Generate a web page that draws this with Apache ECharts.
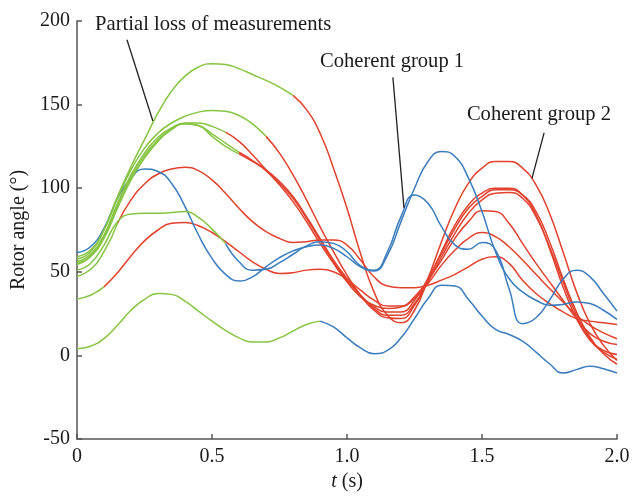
<!DOCTYPE html>
<html>
<head>
<meta charset="utf-8">
<script src="https://cdn.jsdelivr.net/npm/echarts@6/dist/echarts.min.js"></script>
<style>
html, body { margin: 0; padding: 0; background: #ffffff; }
#chart { width: 633px; height: 497px; }
</style>
</head>
<body>
<div id="chart"></div>
<script>
// Sample instants (s)
const timeS = [0, 0.05, 0.1, 0.15, 0.2, 0.25, 0.3, 0.35, 0.4, 0.45,
  0.5, 0.55, 0.6, 0.65, 0.7, 0.75, 0.8, 0.85, 0.9, 0.95,
  1.0, 1.05, 1.1, 1.15, 1.2, 1.25, 1.3, 1.35, 1.4, 1.45,
  1.5, 1.55, 1.6, 1.65, 1.7, 1.75, 1.8, 1.85, 1.9, 1.95, 2.0];

// Rotor angle of each generator (deg), one value per sample instant
const gen1 = [57.5, 62, 75, 95, 113, 129, 145, 158, 167, 172.5,
  174.5, 174, 171.5, 168, 164.5, 160.5, 155.5, 147, 133, 112,
  88, 61, 38, 24, 19.5, 27, 46, 68, 88, 103,
  112, 116, 116, 112, 102, 85, 62, 38, 19, 6, -3];
const gen2 = [59, 63, 75, 94, 111, 124, 133, 139, 143, 145.5,
  146.5, 146, 143.5, 138.5, 131, 121, 108, 93, 77, 62,
  48, 36, 27, 22.5, 22, 30, 45, 62, 78, 90,
  97, 100, 100, 96, 84, 64, 41, 22, 9, 2, -2.4];
const gen3 = [56, 60.5, 72, 91, 108, 121, 130.5, 136, 139, 139,
  137, 133.5, 128, 120, 111, 103, 94, 82, 69, 56,
  45, 36, 29, 26, 26, 33, 46, 61, 76, 88,
  95, 99, 99, 96, 86, 68, 46, 26, 11, 1, -5.3];
const gen4 = [54.4, 59, 70, 88, 105, 118, 128, 135, 138.5, 137.5,
  131, 125, 120.5, 116, 111, 104, 95, 83, 70, 57,
  46, 36, 28, 24, 24, 31, 44, 59, 73, 85,
  93, 97, 97.5, 94, 83, 65, 44, 24, 10, 3, 0.6];
const gen5 = [55, 59.5, 71, 89.5, 106.5, 119.5, 129, 135.5, 138.5, 137.5,
  132.5, 127, 121.5, 116.5, 110.5, 102, 92, 80, 67, 55,
  44, 35, 30, 28, 29, 35, 45, 57, 70, 80,
  86.5, 86, 79, 67, 55, 44, 33, 22, 13, 8.5, 6.5];
const gen6 = [47.3, 51.5, 62, 79, 93, 102.5, 108.5, 111.5, 112.5, 110.5,
  105, 97, 88, 80, 74, 70, 67.5, 68, 69, 69,
  66, 57, 47, 41.5, 40.5, 40.5, 42, 45, 48.5, 53,
  57.5, 59, 55, 45, 37, 31, 26, 22, 20.5, 19.5, 18.5];
const gen7 = [33.7, 36, 41, 49.5, 59.5, 68.5, 75, 79, 79.5, 77.5,
  73.5, 68, 62, 56, 51.5, 49, 49.5, 51, 51.5, 50,
  45.5, 39, 33, 29.5, 29.5, 34, 43, 54, 63, 70,
  73.5, 71, 65, 57, 48.5, 40, 32, 24, 18, 13.5, 10];
const gen8 = [61.5, 65, 76, 94, 106, 111.5, 110, 103, 89, 72,
  58, 48.5, 44.5, 47, 53, 58.5, 62.5, 65, 66, 64,
  59, 53, 50.5, 60, 80, 100, 116, 122, 119, 106,
  86, 62, 46, 38, 33, 30, 30.5, 32, 31, 27, 21.5];
const gen9 = [51, 55, 66, 80, 84.5, 85, 85, 85.5, 86, 82.5,
  75.5, 67, 56, 51, 51.5, 55.5, 60.5, 65.5, 68, 67,
  62, 53.5, 51, 62, 83, 96, 91, 77, 66, 63.5,
  67.5, 63, 40, 19, 22.5, 33, 45.5, 51, 47, 37, 26.5];
const gen10 = [4, 5.5, 10, 18, 27, 33.5, 37, 36.5, 32.5, 26.5,
  20.5, 15, 10.5, 8, 8, 10.5, 14.5, 18.5, 20.5, 17,
  10.5, 4.5, 1, 3, 10.5, 22, 34, 42, 41.5, 33.5,
  23.5, 15.5, 12.5, 8.5, 2, -5, -10.5, -8.5, -6.5, -8, -10.5];

// Trace state of each generator: [state, first sample index]
const phase1 = [['loss', 0], ['group2', 16]];
const phase2 = [['loss', 0], ['group2', 14]];
const phase3 = [['loss', 0], ['group2', 11]];
const phase4 = [['loss', 0], ['group2', 12]];
const phase5 = [['loss', 0], ['group2', 12]];
const phase6 = [['loss', 0], ['group2', 3]];
const phase7 = [['loss', 0], ['group2', 2]];
const phase8 = [['group1', 0]];
const phase9 = [['loss', 0], ['group1', 11]];
const phase10 = [['loss', 0], ['group1', 18]];

// Axis ticks
const xTicks = [0, 0.5, 1.0, 1.5, 2.0];
const yTicks = [-50, 0, 50, 100, 150, 200];

// Callout texts
const noteTexts = ['Partial loss of measurements', 'Coherent group 1', 'Coherent group 2'];

const stateColor = { loss: '#86c442', group1: '#3a7cbd', group2: '#e2412d' };
const serif = '"Liberation Serif", "Times New Roman", serif';

const curves = [gen1, gen2, gen3, gen4, gen5, gen6, gen7, gen8, gen9, gen10];
const phases = [phase1, phase2, phase3, phase4, phase5, phase6, phase7, phase8, phase9, phase10];

// One line series per coloured stretch; consecutive stretches share their joint sample
const series = [];
curves.forEach((vals, c) => {
  const ph = phases[c];
  ph.forEach((p, k) => {
    const start = p[1];
    const end = k + 1 < ph.length ? ph[k + 1][1] : vals.length - 1;
    const data = [];
    for (let i = start; i <= end; i++) data.push([timeS[i], vals[i]]);
    series.push({
      type: 'line',
      data: data,
      smooth: 0.5,
      showSymbol: false,
      silent: true,
      animation: false,
      lineStyle: { width: 1.5, color: stateColor[p[0]] },
      z: p[0] === 'loss' ? 3 : 2
    });
  });
});

const chart = echarts.init(document.getElementById('chart'), null, { renderer: 'canvas' });

const axisLine = { show: true, onZero: false, lineStyle: { color: '#555555', width: 1.5 } };
const axisTick = { show: true, inside: true, length: 5, lineStyle: { color: '#555555', width: 1.5 } };

chart.setOption({
  backgroundColor: '#ffffff',
  animation: false,
  grid: { left: 77, right: 16, top: 21, bottom: 54, containLabel: false },
  xAxis: {
    type: 'value',
    min: xTicks[0],
    max: xTicks[xTicks.length - 1],
    interval: 0.5,
    axisLine: axisLine,
    axisTick: axisTick,
    splitLine: { show: false },
    axisLabel: {
      margin: 8,
      color: '#1a1a1a',
      fontFamily: serif,
      fontSize: 20,
      formatter: v => (v === 0 ? '0' : v.toFixed(1))
    },
    name: '{i|t} (s)',
    nameLocation: 'middle',
    nameGap: 33,
    nameTextStyle: {
      color: '#1a1a1a',
      fontFamily: serif,
      fontSize: 20,
      rich: { i: { fontStyle: 'italic', fontFamily: serif, fontSize: 20, color: '#1a1a1a' } }
    }
  },
  yAxis: {
    type: 'value',
    min: yTicks[0],
    max: yTicks[yTicks.length - 1],
    interval: 50,
    axisLine: axisLine,
    axisTick: axisTick,
    splitLine: { show: false },
    axisLabel: {
      margin: 7,
      color: '#1a1a1a',
      fontFamily: serif,
      fontSize: 20
    },
    name: 'Rotor angle (°)',
    nameLocation: 'middle',
    nameGap: 45,
    nameTextStyle: { color: '#1a1a1a', fontFamily: serif, fontSize: 20 }
  },
  series: series
});

// Callouts placed in data coordinates: [text anchor, leader start, leader end]
const noteLayout = [
  [[0.067, 197.6], [0.185, 188.8], [0.281, 140.2]],
  [[0.90, 175.7], [1.170, 166.3], [1.211, 88.2]],
  [[1.444, 143.8], [1.730, 133.1], [1.685, 105.9]]
];
const toPx = p => chart.convertToPixel({ xAxisIndex: 0, yAxisIndex: 0 }, p);
const graphics = [];
noteLayout.forEach((n, i) => {
  const a = toPx(n[0]), s = toPx(n[1]), e = toPx(n[2]);
  graphics.push({
    type: 'text', x: a[0], y: a[1], z: 10,
    style: { text: noteTexts[i], font: '20.6px ' + serif, fill: '#1a1a1a', verticalAlign: 'middle', align: 'left' }
  });
  graphics.push({
    type: 'line', z: 10,
    shape: { x1: s[0], y1: s[1], x2: e[0], y2: e[1] },
    style: { stroke: '#222222', lineWidth: 1.3 }
  });
});
chart.setOption({ graphic: graphics });
</script>
</body>
</html>
